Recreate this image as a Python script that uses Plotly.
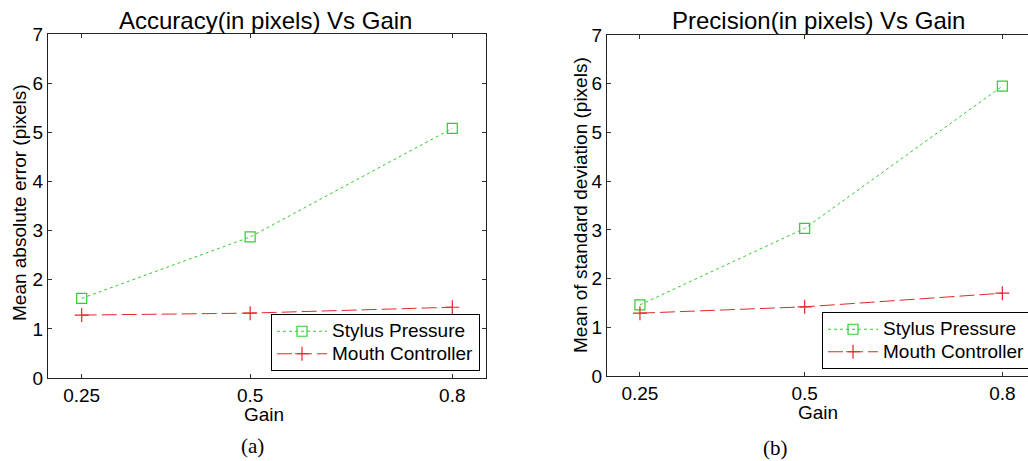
import plotly.graph_objects as go

gain = [0.25, 0.5, 0.8]
gain_ticks = ["0.25", "0.5", "0.8"]
acc_stylus = [1.62, 2.87, 5.08]
acc_mouth = [1.28, 1.32, 1.44]
prec_stylus = [1.46, 3.03, 5.95]
prec_mouth = [1.29, 1.42, 1.70]
series_names = ["Stylus Pressure", "Mouth Controller"]
titles = ["Accuracy(in pixels) Vs Gain", "Precision(in pixels) Vs Gain"]
ylabels = ["Mean absolute error (pixels)", "Mean of standard deviation (pixels)"]
captions = ["(a)", "(b)"]

GREEN = "#33cc33"
RED = "#e3262b"
FONT = "Liberation Sans, Arial, sans-serif"
W, H = 1028, 461

fig = go.Figure()

def legend_name(s):
    return '<span style="font-size:19px">' + s + '</span>'

def add_pair(stylus, mouth, xa, ya, legend):
    fig.add_trace(go.Scatter(
        x=gain, y=stylus, name=legend_name(series_names[0]), mode="lines+markers",
        line=dict(color=GREEN, width=1, dash="3px,3px"),
        marker=dict(symbol="square-open", size=10, color=GREEN, line=dict(width=1.2, color=GREEN)),
        xaxis=xa, yaxis=ya, legend=legend))
    fig.add_trace(go.Scatter(
        x=gain, y=mouth, name=legend_name(series_names[1]), mode="lines+markers",
        line=dict(color=RED, width=1, dash="15px,5px"),
        marker=dict(symbol="cross-thin-open", size=10, color=RED, line=dict(width=1.2, color=RED)),
        xaxis=xa, yaxis=ya, legend=legend))

add_pair(acc_stylus, acc_mouth, "x", "y", "legend")
add_pair(prec_stylus, prec_mouth, "x2", "y2", "legend2")

axis_common = dict(showgrid=False, zeroline=False, showline=True, linecolor="#222222", linewidth=1,
                   ticks="inside", ticklen=4, tickcolor="#333333", automargin=False,
                   tickfont=dict(family=FONT, size=19, color="black"))

# pixel geometry
L1, R1, T1, B1 = 48, 486, 34, 378
L2, T2, B2 = 607, 35, 376

legend_common = dict(bgcolor="white", bordercolor="black", borderwidth=1,
                     font=dict(family=FONT, size=15, color="black"), itemwidth=50,
                     tracegroupgap=0)

fig.update_layout(
    width=W, height=H, margin=dict(l=0, r=0, t=0, b=0, autoexpand=False),
    paper_bgcolor="white", plot_bgcolor="white",
    xaxis=dict(domain=[L1 / W, R1 / W], range=[0.2, 0.85], tickvals=gain, ticktext=gain_ticks,
               mirror="ticks", anchor="y", **axis_common),
    yaxis=dict(domain=[1 - B1 / H, 1 - T1 / H], range=[0, 7], dtick=1,
               mirror="ticks", anchor="x", **axis_common),
    xaxis2=dict(domain=[L2 / W, 1.0], range=[0.2, 0.2 + (W - L2) / 658.9], tickvals=gain,
                ticktext=gain_ticks, mirror="ticks", anchor="y2", **axis_common),
    yaxis2=dict(domain=[1 - B2 / H, 1 - T2 / H], range=[0, 7], dtick=1,
                mirror=False, anchor="x2", **axis_common),
    legend=dict(x=480 / W, y=1 - 371 / H, xanchor="right", yanchor="bottom", **legend_common),
    legend2=dict(x=822 / W, y=1 - 369 / H, xanchor="left", yanchor="bottom", **legend_common),
    showlegend=True,
)

def txt(text, x, y, size, family=FONT, angle=0):
    return dict(text=text, x=x / W, y=1 - y / H, xref="paper", yref="paper",
                xanchor="center", yanchor="middle", showarrow=False, textangle=angle,
                font=dict(family=family, size=size, color="black"))

SERIF = "Liberation Serif, Times New Roman, serif"
ann = [
    txt(titles[0], 265, 20, 24),
    txt(titles[1], 818, 20, 24),
    txt("Gain", 264, 414, 19),
    txt("Gain", 818, 412, 19),
    txt(ylabels[0], 20, 203, 19, angle=-90),
    txt(ylabels[1], 580, 205, 19, angle=-90),
    txt(captions[0], 252, 446, 21, family=SERIF),
    txt(captions[1], 775, 448, 21, family=SERIF),
]
fig.update_layout(annotations=ann)

fig.write_html("out.html", config={"displayModeBar": False},
               post_script="document.body.style.margin='0';document.body.style.overflow='hidden';")
